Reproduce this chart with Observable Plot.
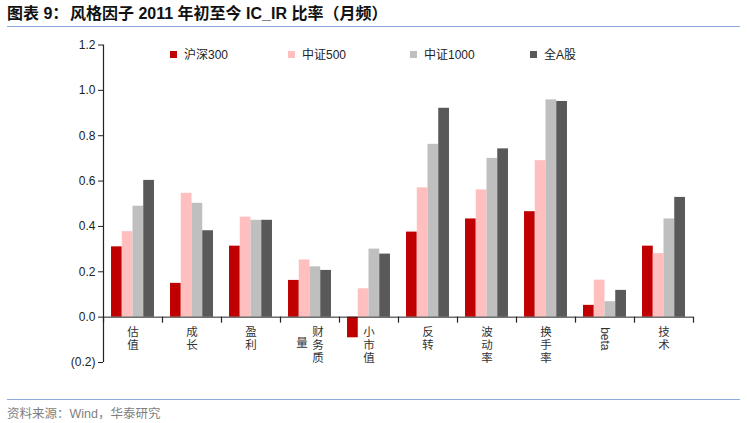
<!DOCTYPE html>
<html><head><meta charset="utf-8">
<script src="https://cdn.jsdelivr.net/npm/d3@7"></script>
<script src="https://cdn.jsdelivr.net/npm/@observablehq/plot@0.6"></script>
<style>
body{margin:0;background:#fff;}
#wrap{position:relative;width:747px;height:423px;overflow:hidden;font-family:"Liberation Sans","Noto Sans CJK SC",sans-serif;}
.title{position:absolute;top:0px;font-size:16px;font-weight:bold;color:#111;white-space:pre;font-family:"Liberation Sans","Noto Sans CJK SC",sans-serif;}
#tline{position:absolute;left:7px;top:26px;width:733px;height:0;border-top:1.5px solid #8FAADC;}
#chart{position:absolute;left:0;top:30px;}
#legend{position:absolute;left:0;top:45px;width:747px;height:16px;font-size:12px;color:#222;}
.li{position:absolute;top:0;white-space:nowrap;}
.sw{display:inline-block;width:7px;height:7px;margin-right:7px;vertical-align:1px;}
#bline{position:absolute;left:7px;top:399px;width:733px;height:0;border-top:1.5px solid #8FAADC;}
#foot{position:absolute;left:7px;top:403px;font-size:12.5px;color:#7f7f7f;white-space:pre;}
</style></head>
<body>
<div id="wrap">
<div class="title" style="left:7px">图表 9：</div>
<div class="title" style="left:70px">风格因子 2011 年初至今 IC_IR 比率（月频）</div>
<div id="tline"></div>
<div id="chart"></div>
<div id="legend"></div>
<div id="bline"></div>
<div id="foot">资料来源：Wind，华泰研究</div>
</div>
<script>
const categories = ["估值","成长","盈利","财务质量","小市值","反转","波动率","换手率","beta","技术"];
const seriesNames = ["沪深300","中证500","中证1000","全A股"];
const seriesColors = ["#C00000","#FFBFBF","#BFBFBF","#595959"];
const hs300  = [0.310,0.149,0.313,0.162,-0.091,0.375,0.433,0.465,0.052,0.313];
const zz500  = [0.377,0.546,0.441,0.252,0.125,0.570,0.561,0.690,0.163,0.280];
const zz1000 = [0.489,0.502,0.427,0.222,0.300,0.762,0.700,0.958,0.068,0.433];
const allA   = [0.603,0.381,0.427,0.206,0.278,0.921,0.742,0.951,0.118,0.528];
const yTicks = [-0.2,0,0.2,0.4,0.6,0.8,1.0,1.2];

const seriesValues = [hs300, zz500, zz1000, allA];
const barW = 0.182, pad = (1 - 4*barW)/2;
const data = [];
categories.forEach((c,i) => seriesValues.forEach((vals,j) => {
  data.push({cat:c, series:seriesNames[j], value:vals[i], x1:i+pad+j*barW, x2:i+pad+(j+1)*barW});
}));
const labels = categories.map((c,i) => ({cat:c, x:i+0.5}));
const normal = labels.filter(d => d.cat !== "财务质量" && d.cat !== "beta");
const bounds = d3.range(0, categories.length+1);

const fmt = d => d < 0 ? `(${Math.abs(d).toFixed(1)})` : d.toFixed(1);

const plot = Plot.plot({
  width: 747, height: 360,
  marginLeft: 103, marginRight: 54, marginTop: 14.5, marginBottom: 28,
  style: {fontFamily: '"Liberation Sans","Noto Sans CJK SC",sans-serif', fontSize: "12px", color: "#222", background: "#fff"},
  x: {domain: [0, categories.length], axis: null},
  y: {domain: [-0.2, 1.2], ticks: yTicks, tickFormat: fmt, tickSize: 5, tickPadding: 3, label: null},
  color: {domain: seriesNames, range: seriesColors},
  marks: [
    Plot.rectY(data, {x1: "x1", x2: "x2", y: "value", fill: "series"}),
    Plot.ruleY([0], {stroke: "#222", strokeWidth: 1}),
    Plot.ruleX([0], {y1: -0.2, y2: 1.2, stroke: "#222", strokeWidth: 1.2}),
    Plot.ruleX(bounds, {x: d => d, y1: 0, y2: 0, insetBottom: -6, stroke: "#222", strokeWidth: 1.2}),
    Plot.text(normal, {x: "x", y: 0, text: d => d.cat.split("").join("\n"), lineAnchor: "top", dy: 9, lineHeight: 1.15, fontSize: 11.5, fill: "#333"}),
    Plot.text(labels.filter(d => d.cat === "财务质量"), {x: "x", y: 0, text: d => "财\n务\n质", lineAnchor: "top", dy: 9, dx: 8, lineHeight: 1.15, fontSize: 11.5, fill: "#333"}),
    Plot.text(labels.filter(d => d.cat === "财务质量"), {x: "x", y: 0, text: d => "量", lineAnchor: "top", dy: 22, dx: -8, fontSize: 11.5, fill: "#333"}),
    Plot.text(labels.filter(d => d.cat === "beta"), {x: "x", y: 0, text: "cat", rotate: 90, textAnchor: "start", dy: 10, fontSize: 12, fill: "#333"})
  ]
});
document.getElementById("chart").appendChild(plot);

const leg = document.getElementById("legend");
const legX = [170, 288, 410, 530];
seriesNames.forEach((s,i) => {
  const d = document.createElement("div");
  d.className = "li";
  d.style.left = legX[i] + "px";
  d.innerHTML = `<span class="sw" style="background:${seriesColors[i]}"></span>${s}`;
  leg.appendChild(d);
});
</script>
</body></html>
